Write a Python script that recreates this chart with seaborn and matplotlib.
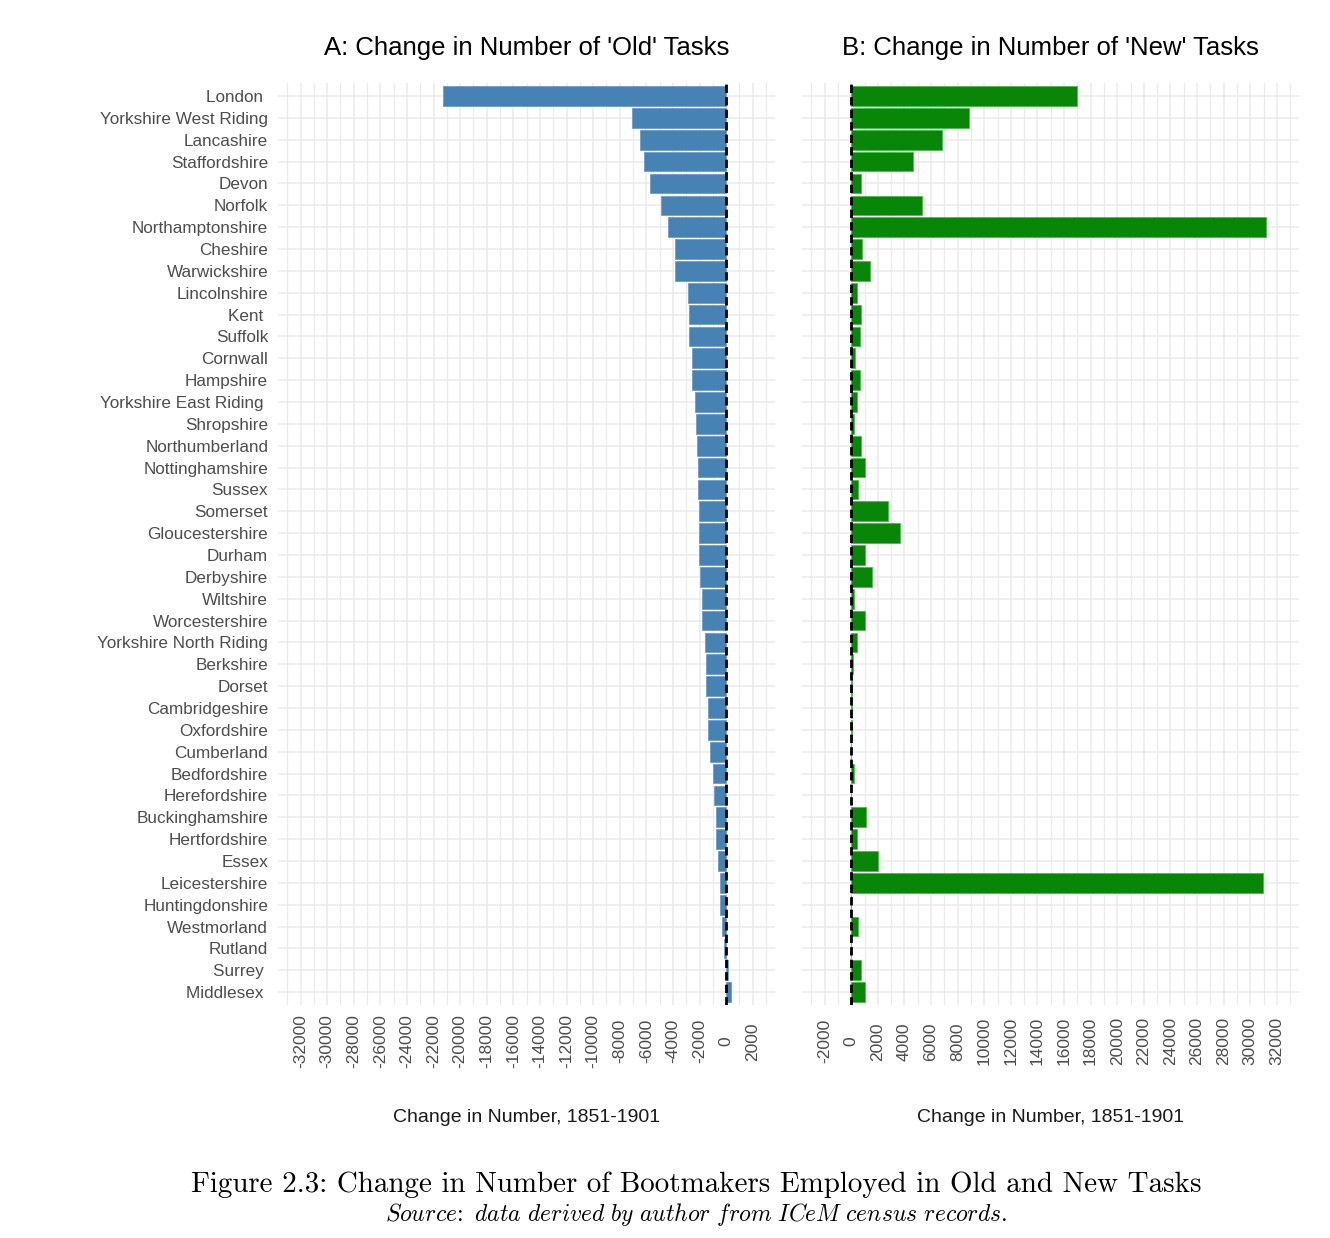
import numpy as np
import pandas as pd
import seaborn as sns
from matplotlib import pyplot as plt

# counties in the order they appear (top to bottom); trailing spaces as in source labels
counties = ['London ', 'Yorkshire West Riding', 'Lancashire', 'Staffordshire', 'Devon',
            'Norfolk', 'Northamptonshire', 'Cheshire', 'Warwickshire', 'Lincolnshire',
            'Kent ', 'Suffolk', 'Cornwall', 'Hampshire', 'Yorkshire East Riding ',
            'Shropshire', 'Northumberland', 'Nottinghamshire', 'Sussex', 'Somerset',
            'Gloucestershire', 'Durham', 'Derbyshire', 'Wiltshire', 'Worcestershire',
            'Yorkshire North Riding', 'Berkshire', 'Dorset', 'Cambridgeshire', 'Oxfordshire',
            'Cumberland', 'Bedfordshire', 'Herefordshire', 'Buckinghamshire', 'Hertfordshire',
            'Essex', 'Leicestershire', 'Huntingdonshire', 'Westmorland', 'Rutland',
            'Surrey ', 'Middlesex ']

# change in number employed in 'old' tasks, 1851-1901
old_tasks = [-21300, -7100, -6450, -6150, -5750,
             -4900, -4350, -3830, -3830, -2880,
             -2780, -2780, -2580, -2580, -2360,
             -2260, -2160, -2150, -2150, -2060,
             -2060, -2050, -1950, -1830, -1830,
             -1630, -1530, -1530, -1330, -1330,
             -1200, -1000, -880, -780, -780,
             -650, -450, -450, -350, -170,
             110, 380]

# change in number employed in 'new' tasks, 1851-1901
new_tasks = [17000, 8820, 6840, 4640, 730,
             5360, 31200, 830, 1450, 400,
             730, 630, 300, 630, 400,
             200, 730, 1030, 500, 2760,
             3680, 1030, 1560, 200, 1000,
             400, 150, 80, 60, 50,
             0, 180, 20, 1150, 400,
             1980, 30950, 0, 520, 0,
             720, 1000]

df = pd.DataFrame({'county': counties, 'old': old_tasks, 'new': new_tasks})

sns.set_theme(style='white')
plt.rcParams['font.family'] = ['Liberation Sans', 'DejaVu Sans']
plt.rcParams['mathtext.fontset'] = 'cm'
plt.rcParams['axes.unicode_minus'] = False

fig = plt.figure(figsize=(13.3, 12.38), dpi=100)
ax1 = fig.add_axes([0.209, 0.188, 0.374, 0.745])
ax2 = fig.add_axes([0.603, 0.188, 0.374, 0.745])

panels = [
    (ax1, 'old', '#4682b4', '#6f9cc6', "A: Change in Number of 'Old' Tasks",
     (-33700, 3700), np.arange(-32000, 2001, 2000), np.arange(-33000, 3001, 1000)),
    (ax2, 'new', '#078607', '#4cbb4c', "B: Change in Number of 'New' Tasks",
     (-3700, 33700), np.arange(-2000, 32001, 2000), np.arange(-3000, 33001, 1000)),
]

for ax, col, fill, edge, title, lims, majors, minors in panels:
    sns.barplot(data=df, x=col, y='county', color=fill, width=0.9, orient='h',
                edgecolor=edge, linewidth=0.6, saturation=1, ax=ax, zorder=2)
    ax.axvline(0, color='black', linestyle=(0, (3, 1.5)), linewidth=2.0, zorder=3)
    ax.set_xlim(*lims)
    ax.set_ylim(len(counties) - 0.4, -0.6)
    ax.set_xticks(majors)
    ax.set_xticks(minors, minor=True)
    ax.grid(True, which='major', axis='both', color='#ebebeb', linewidth=1.1, zorder=0)
    ax.grid(True, which='minor', axis='x', color='#ebebeb', linewidth=0.9, zorder=0)
    ax.set_axisbelow(True)
    for s in ax.spines.values():
        s.set_visible(False)
    ax.tick_params(axis='both', which='both', length=0, colors='#4d4d4d')
    ax.tick_params(axis='y', labelsize=12.3)
    ax.tick_params(axis='x', labelsize=12.5, pad=26)
    for lab in ax.get_xticklabels():
        lab.set_rotation(90)
        lab.set_va('center')
    ax.set_title(title, fontsize=18.5, color='black', pad=20)
    ax.set_ylabel('')
    ax.set_xlabel('Change in Number, 1851-1901', fontsize=14, color='#1a1a1a')
    ax.xaxis.set_label_coords(0.5, -0.113)

ax1.tick_params(axis='y', pad=7)
ax2.set_yticklabels([])

fig.text(0.5237, 0.0430, 'Figure 2.3: Change in Number of Bootmakers Employed in Old and New Tasks',
         ha='center', va='center', fontsize=20.9, family='cmr10', color='black')
fig.text(0.5237, 0.0190,
         r'$\mathit{Source\!:\ data\ derived\ by\ author\ from\ ICeM\ census\ records.}$',
         ha='center', va='center', fontsize=17, color='black')

plt.savefig('out.png', dpi=100)
